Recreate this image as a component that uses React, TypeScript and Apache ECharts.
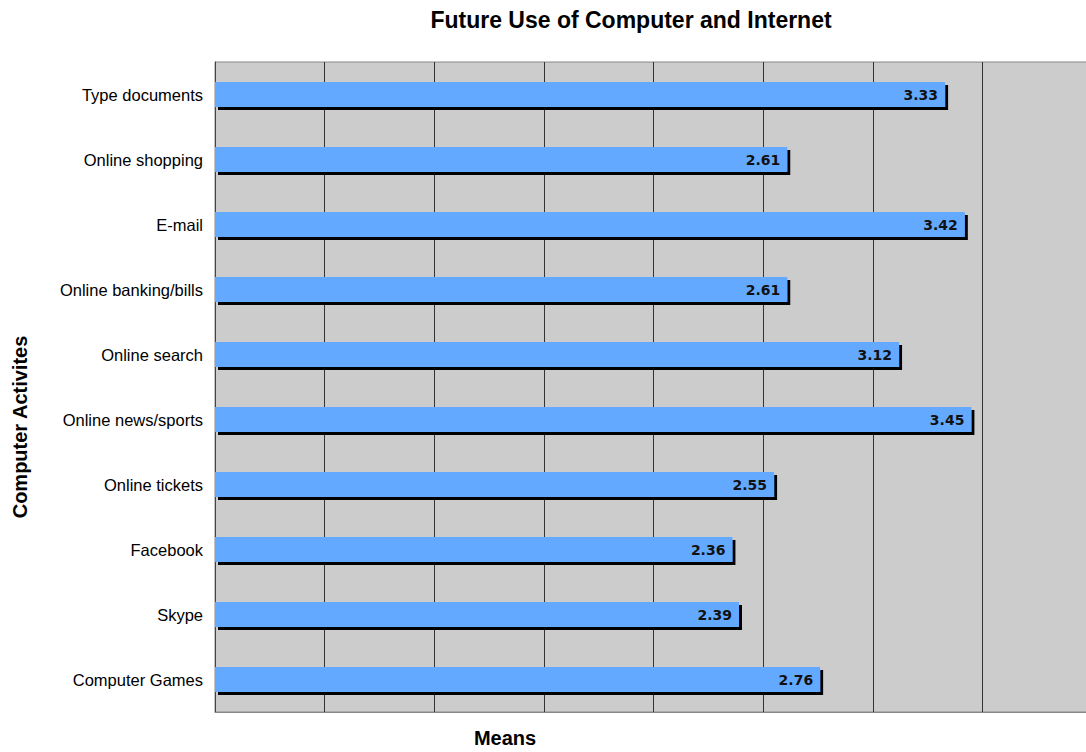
import React, { useEffect, useRef } from "react";
import * as echarts from "echarts";

const categories = [
  "Type documents",
  "Online shopping",
  "E-mail",
  "Online banking/bills",
  "Online search",
  "Online news/sports",
  "Online tickets",
  "Facebook",
  "Skype",
  "Computer Games",
];
const means = [3.33, 2.61, 3.42, 2.61, 3.12, 3.45, 2.55, 2.36, 2.39, 2.76];
const titleText = "Future Use of Computer and Internet";
const xAxisTitle = "Means";
const yAxisTitle = "Computer Activites";

export default function App() {
  const ref = useRef<HTMLDivElement>(null);
  useEffect(() => {
    if (!ref.current) return;
    const chart = echarts.init(ref.current, null, { renderer: "svg" });
    chart.setOption({
      animation: false,
      backgroundColor: "#ffffff",
      grid: {
        left: 215,
        top: 62,
        right: 8,
        bottom: 40,
        show: true,
        backgroundColor: "#cccccc",
        borderColor: "#888888",
        borderWidth: 1,
      },
      xAxis: {
        type: "value",
        min: 0,
        max: 4,
        interval: 0.5,
        axisLabel: { show: false },
        axisTick: { show: false },
        axisLine: { show: true, lineStyle: { color: "#888888", width: 1 } },
        splitLine: { show: true, lineStyle: { color: "#333333", width: 1 } },
      },
      yAxis: {
        type: "category",
        data: categories,
        inverse: true,
        axisTick: { show: false },
        axisLine: { show: true, lineStyle: { color: "#444444", width: 1 } },
        axisLabel: {
          margin: 12,
          color: "#000000",
          fontFamily: "Liberation Sans, Arial, sans-serif",
          fontSize: 16.5,
        },
        splitLine: { show: false },
      },
      series: [
        {
          type: "bar",
          data: means,
          barWidth: 25,
          itemStyle: {
            color: "#63a9ff",
            shadowColor: "#000000",
            shadowOffsetX: 3,
            shadowOffsetY: 3,
            shadowBlur: 0,
          },
          label: {
            show: true,
            position: "insideRight",
            distance: 7,
            color: "#111111",
            fontFamily: "DejaVu Sans, sans-serif",
            fontSize: 14,
            fontWeight: "bold",
            formatter: (p: any) => Number(p.value).toFixed(2),
          },
        },
      ],
      graphic: [
        {
          type: "text",
          x: 631,
          y: 20,
          style: {
            text: titleText,
            fill: "#000000",
            font: "bold 23px 'Liberation Sans', Arial, sans-serif",
            textAlign: "center",
            textVerticalAlign: "middle",
          },
        },
        {
          type: "text",
          x: 505,
          y: 738,
          style: {
            text: xAxisTitle,
            fill: "#000000",
            font: "bold 20px 'Liberation Sans', Arial, sans-serif",
            textAlign: "center",
            textVerticalAlign: "middle",
          },
        },
        {
          type: "text",
          x: 20,
          y: 427,
          rotation: Math.PI / 2,
          style: {
            text: yAxisTitle,
            fill: "#000000",
            font: "bold 20px 'Liberation Sans', Arial, sans-serif",
            textAlign: "center",
            textVerticalAlign: "middle",
          },
        },
      ],
    });
    return () => chart.dispose();
  }, []);
  return (
    <div
      style={{
        position: "absolute",
        left: 0,
        top: 0,
        width: 1086,
        height: 752,
        overflow: "hidden",
      }}
    >
      <div ref={ref} style={{ width: 1100, height: 752 }} />
    </div>
  );
}
